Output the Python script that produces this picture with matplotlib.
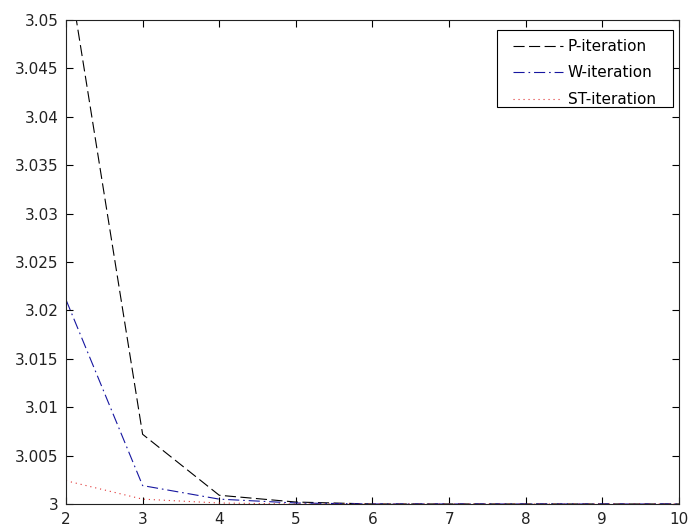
import numpy as np
import matplotlib.pyplot as plt
from matplotlib.patches import Rectangle

# iteration count and values for each scheme
n = [2, 3, 4, 5, 6, 7, 8, 9, 10]
p_iter = [3.0567, 3.0072, 3.0009, 3.0002, 3.0000, 3.0000, 3.0000, 3.0000, 3.0000]
w_iter = [3.0211, 3.0019, 3.0005, 3.0001, 3.0000, 3.0000, 3.0000, 3.0000, 3.0000]
st_iter = [3.0024, 3.0005, 3.0001, 3.0000, 3.0000, 3.0000, 3.0000, 3.0000, 3.0000]

plt.rcParams['font.family'] = ['DejaVu Sans']

fig = plt.figure(figsize=(6.91, 5.29), dpi=100)
ax = fig.add_axes([0.0955, 0.0473, 0.8871, 0.9149])

ax.plot(n, p_iter, color='black', linestyle=(0, (10, 4)), linewidth=0.8, label='P-iteration')
ax.plot(n, w_iter, color='#1616a0', linestyle=(0, (10, 3.5, 1.5, 3.5)), linewidth=0.8, label='W-iteration')
ax.plot(n, st_iter, color='#e03030', linestyle=(0, (1, 3.5)), linewidth=0.8, label='ST-iteration')

ax.set_xlim(2, 10)
ax.set_ylim(3, 3.05)
ax.set_xticks(n)
ax.set_yticks(np.linspace(3, 3.05, 11))
ax.set_yticklabels(['3', '3.005', '3.01', '3.015', '3.02', '3.025', '3.03', '3.035', '3.04', '3.045', '3.05'])

ax.tick_params(direction='in', top=True, right=True, length=5, width=0.8,
               labelsize=11, labelcolor='#222222')
ax.tick_params(axis='x', pad=6)
ax.tick_params(axis='y', pad=5.5)
for s in ax.spines.values():
    s.set_linewidth(0.8)
    s.set_color('#222222')

# legend box drawn separately so the padding can be uneven
ax.add_patch(Rectangle((0.7031, 0.8202), 0.2871, 0.1591, transform=ax.transAxes,
                       facecolor='white', edgecolor='black', linewidth=0.8,
                       zorder=4.5, clip_on=False))
ax.legend(loc='upper left', bbox_to_anchor=(0.7292, 0.9607), borderaxespad=0,
          fontsize=11, handlelength=3.27, handletextpad=0.3,
          borderpad=0, labelspacing=0.75, frameon=False)

fig.savefig('out.png', dpi=100)
